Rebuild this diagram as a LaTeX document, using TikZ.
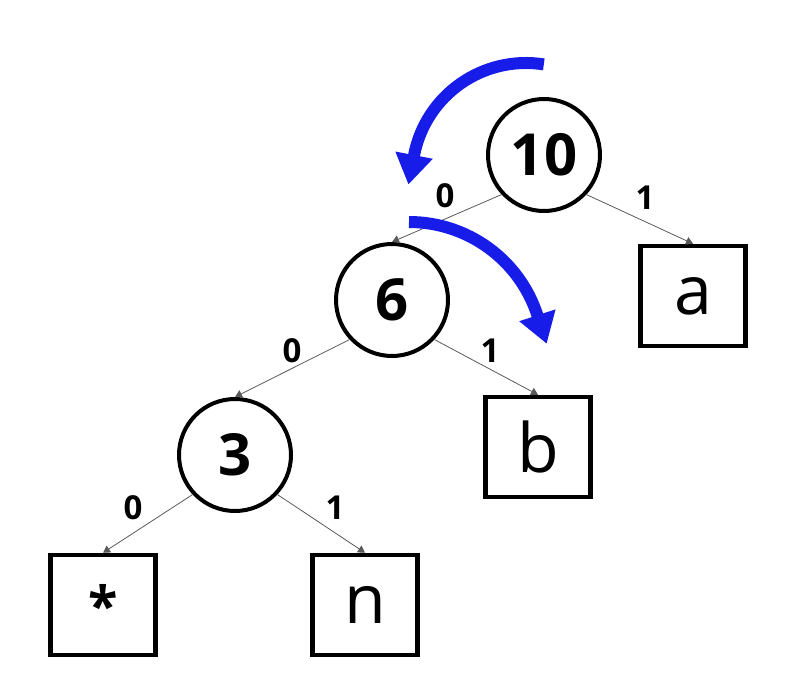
\documentclass[tikz,border=0pt]{standalone}
\usepackage{fontspec}
\setmainfont{Open Sans}
\usetikzlibrary{arrows.meta}
\definecolor{turnblue}{RGB}{24,28,232}
\begin{document}
\begin{tikzpicture}[x=1pt,y=-1pt,
  inner/.style={circle,draw,line width=4pt,minimum size=112pt,inner sep=0pt,
    font=\fontsize{58}{60}\selectfont\bfseries},
  leaf/.style={rectangle,draw,line width=4.5pt,minimum width=105pt,minimum height=100pt,inner sep=0pt,
    font=\fontsize{68}{70}\selectfont},
  edge/.style={draw=black!65,line width=0.8pt,-{Triangle[width=8pt,length=7pt]}},
  bit/.style={font=\fontsize{33}{34}\selectfont\bfseries,inner sep=0pt},
  turn/.style={draw=turnblue,line width=12pt,
    -{Triangle[width=36pt,length=30pt]}}]
\useasboundingbox (0,0) rectangle (792,696);

% tree nodes
\node[inner] (n10) at (544,155) {10};
\node[inner] (n6)  at (392,300) {6};
\node[inner] (n3)  at (235,455) {3};
\node[leaf]  (la)  at (693,296) {a};
\node[leaf]  (lb)  at (538,447) {b};
\node[leaf]  (ls)  at (103,605) {\fontsize{54}{56}\selectfont\bfseries *};
\node[leaf]  (ln)  at (365,605) {n};

% branches
\draw[edge] (n10.-137) -- (n6.north);
\draw[edge] (n10.-43)  -- (la.north);
\draw[edge] (n6.-137)  -- (n3.north);
\draw[edge] (n6.-43)   -- (lb.north);
\draw[edge] (n3.-137)  -- (ls.north);
\draw[edge] (n3.-43)   -- (ln.north);

% branch bits
\node[bit] (b1) at (445,196) {0};
\node[bit] (b2) at (645,198) {1};
\node[bit] (b3) at (292,351) {0};
\node[bit] (b4) at (490,351) {1};
\node[bit] (b5) at (133,508) {0};
\node[bit] (b6) at (335,508) {1};

% rotation arrows: circular arcs ending in a short straight run for the tip
\coordinate (r1s) at (543.8,64.4);
\coordinate (r1e) at (408.4,184.6);
\coordinate (r2s) at (409,222);
\coordinate (r2e) at (546.7,343.8);
\draw[turn] (r1s) arc[start angle=-81, end angle=-169, radius=114] -- (r1e);
\draw[turn] (r2s) arc[start angle=-90, end angle=-18, radius=135] -- (r2e);
\end{tikzpicture}
\end{document}
